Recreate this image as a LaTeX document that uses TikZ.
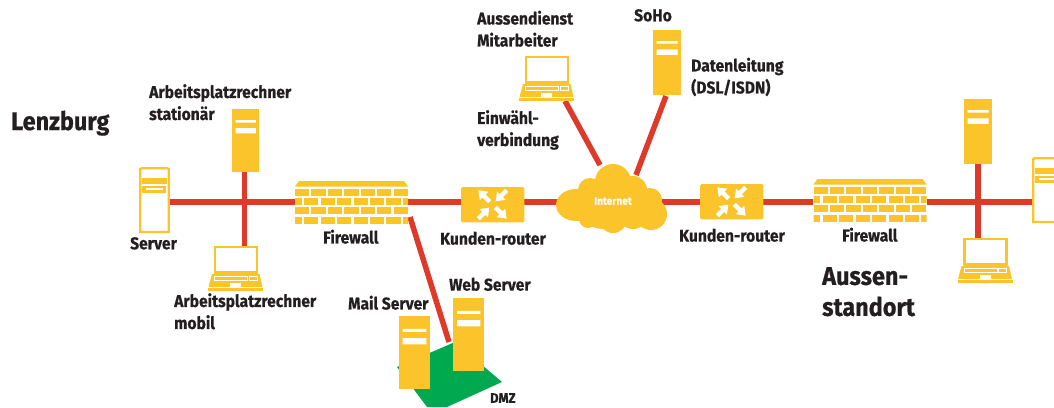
\documentclass[tikz,border=0pt]{standalone}
\usepackage{fontspec}
\usetikzlibrary{calc}
\setmainfont{Fira Sans}[FakeStretch=0.92,BoldFont={Fira Sans Bold},BoldFeatures={FakeBold=0.6}]
\definecolor{yel}{HTML}{FAC42A}
\definecolor{rd}{HTML}{DD3A2A}
\definecolor{grn}{HTML}{00A94F}
\definecolor{ink}{HTML}{231F20}
\tikzset{
  lbl/.style={text=ink,font=\bfseries\fontsize{17}{22}\selectfont,align=left,inner sep=0pt,anchor=north west},
  big/.style={text=ink,font=\bfseries\fontsize{25.5}{31}\selectfont,align=left,inner sep=0pt,anchor=north west},
  small/.style={text=ink,font=\bfseries\fontsize{14}{16}\selectfont,align=left,inner sep=0pt,anchor=north west},
  link/.style={draw=rd,line width=5.5pt},
  box/.style={draw=none,inner sep=0pt,anchor=north west,minimum width=#1},
}
\newcommand{\towerdetail}[1]{% node name
  \path let \p1=(#1.north west),\p2=(#1.south east),\n1={\x2-\x1},\n2={\y1-\y2} in
    [fill=white] (\x1+0.13*\n1,\y1-0.175*\n2) rectangle (\x2-0.13*\n1,\y1-0.215*\n2)
    (\x1+0.13*\n1,\y1-0.30*\n2) rectangle (\x2-0.13*\n1,\y1-0.385*\n2);
}
\newcommand{\serverdetail}[2]{% x y
  \begin{scope}[shift={(#1,#2)}]
    \draw[yel,line width=2.2pt] (1.2,2) -- (1.2,65) -- (29.8,65) -- (29.8,2) -- (28,1.2) -- (3,1.2) -- cycle;
    \fill[yel] (3,11) rectangle (28,17);
    \fill[yel] (3,19) rectangle (27,25.5);
    \fill[white] (6.5,21) rectangle (24,23);
  \end{scope}
}
\newcommand{\laptopdetail}[2]{% x y of base-left
  \begin{scope}[shift={(#1,#2)}]
    \draw[yel,line width=2.2pt] (7,1) rectangle (49,26);
    \fill[yel] (6,26) -- (50,26) -- (50,28) -- (51.5,28) -- (54.5,41) -- (.5,41) -- (4,28) -- (6,28) -- cycle;
    \fill[yel] (0,42) rectangle (55,44.5);
    \draw[white,line width=.6pt] (6.5,30.5) rectangle (39.5,34) (41,30.5) rectangle (49,34);
    \fill[white] (22,36.5) rectangle (33,40.5);
  \end{scope}
}
\newcommand{\firewalldetail}[2]{%
  \begin{scope}[shift={(#1,#2)}]
    \fill[yel] (4,0) -- (109,0) -- (113,5.5) -- (0,5.5) -- cycle;
    \begin{scope}
      \clip (0,0) rectangle (113,43);
      \foreach \r in {0,2}{
        \foreach \k in {0,...,6}{
          \fill[yel] ({\k*16.45},{7.5+\r*9.45}) rectangle ({\k*16.45+14.2},{14.5+\r*9.45});
        }
      }
      \foreach \r in {1,3}{
        \foreach \k in {-1,...,7}{
          \fill[yel] ({\k*16.45+9.2},{7.5+\r*9.45}) rectangle ({\k*16.45+23.4},{14.5+\r*9.45});
        }
      }
    \end{scope}
  \end{scope}
}
\newcommand{\routerdetail}[2]{% centre
  \begin{scope}[shift={(#1,#2)}]
    \foreach \a in {135,315}{
      \begin{scope}[rotate=\a]
        \fill[white] (4,-2.2) -- (12,-2.2) -- (12,-6) -- (20,0) -- (12,6) -- (12,2.2) -- (4,2.2) -- cycle;
      \end{scope}
    }
    \foreach \a in {45,225}{
      \begin{scope}[rotate=\a]
        \fill[white] (20,-2.2) -- (12.5,-2.2) -- (12.5,-6) -- (4.5,0) -- (12.5,6) -- (12.5,2.2) -- (20,2.2) -- cycle;
      \end{scope}
    }
  \end{scope}
}
\begin{document}
\begin{tikzpicture}[x=1pt,y=-1pt]
\useasboundingbox (0,0) rectangle (1054,407);
% nodes as device footprints
\path
  (139,167) node[box=31pt,minimum height=66pt] (srvL) {}
  (232,109) node[box=27pt,minimum height=63pt] (twrL) {}
  (208,246) node[box=55pt,minimum height=45pt] (lapL) {}
  (295,181) node[box=113pt,minimum height=43pt] (fwL) {}
  (461,187) node[box=63pt,minimum height=35pt] (rtL) {}
  (556,165) node[box=111pt,minimum height=68pt] (cloud) {}
  (700,184) node[box=63pt,minimum height=35pt] (rtR) {}
  (813,179) node[box=114pt,minimum height=44pt] (fwR) {}
  (964,98.5) node[box=28pt,minimum height=65.5pt] (twrR) {}
  (957.5,238) node[box=55pt,minimum height=45pt] (lapR) {}
  (1032,157) node[box=31pt,minimum height=66pt] (srvR) {}
  (519,56) node[box=55pt,minimum height=45pt] (lapA) {}
  (653,29.5) node[box=28pt,minimum height=65.5pt] (soho) {}
  (453,298) node[box=31pt,minimum height=73pt] (web) {}
  (398.5,316) node[box=31.5pt,minimum height=73pt] (mail) {};
\coordinate (jL) at (244.5,202);
\coordinate (jR) at (978,202);
\coordinate (dmzA) at (410,217);
\coordinate (dmzB) at (449,342);
\coordinate (cA) at (600,165);
\coordinate (cB) at (636,175);
\coordinate (lA) at (565,101);
\coordinate (sB) at (666,96);
% green DMZ
\fill[grn] (397,367) -- (455,342) -- (502,382) -- (447,407) -- (427,407) -- cycle;
% links
\draw[link] (srvL.east |- jL) -- (fwL.west |- jL);
\draw[link] (twrL.south -| jL) -- (lapL.north -| jL);
\draw[link] (fwL.east |- jL) -- (rtL.west |- jL);
\draw[link] (rtL.east |- jL) -- (cloud.center |- jL);
\draw[link] (cloud.center |- jL) -- (rtR.west |- jL);
\draw[link] (rtR.east |- jL) -- (fwR.west |- jL);
\draw[link] (fwR.east |- jR) -- (srvR.west |- jR);
\draw[link] (twrR.south -| jR) -- (lapR.north -| jR);
\draw[link] (lA) -- (cA);
\draw[link] (sB) -- (cB);
\draw[link] (dmzA) -- (dmzB);
% towers
\foreach \dev in {twrL,twrR,soho,web,mail}{
  \fill[yel] (\dev.north west) rectangle (\dev.south east);
  \towerdetail{\dev}
}
\serverdetail{139}{167}
\begin{scope}
  \clip (1000,100) rectangle (1054,300);
  \serverdetail{1032}{157}
\end{scope}
\laptopdetail{208}{246}
\laptopdetail{957.5}{238}
\laptopdetail{519}{56}
\firewalldetail{295}{181}
\firewalldetail{813.5}{179}
\fill[yel,rounded corners=1.5pt] (rtL.north west) rectangle (rtL.south east);
\fill[yel,rounded corners=1.5pt] (rtR.north west) rectangle (rtR.south east);
\routerdetail{492.5}{204.5}
\routerdetail{731.5}{201.5}
% cloud
\fill[yel] (613,182) circle (18) (590,190) circle (12) (576,205) ellipse (20 and 16)
  (605,205) ellipse (30 and 24) (633,190) circle (14) (650,200) circle (12) (651,214) circle (16)
  (613,219) circle (14) (588,219) circle (9) (633,214) circle (15);
\node[inner sep=0pt,text=white,font=\bfseries\fontsize{11}{12}\selectfont] (inet) at (613,201) {Internet};
% labels
\node[big] (tLenz) at (11,110.5) {Lenzburg};
\node[lbl] (tArb) at (149,84) {Arbeitsplatzrechner\\stationär};
\node[lbl] (tSrv) at (130,237) {Server};
\node[lbl] (tMob) at (174,293) {Arbeitsplatzrechner\\mobil};
\node[lbl] (tFw1) at (323,229.5) {Firewall};
\node[lbl] (tKr1) at (440,231.5) {Kunden-router};
\node[lbl] (tMail) at (348,295.5) {Mail Server};
\node[lbl] (tWeb) at (449,277.5) {Web Server};
\node[small] (tDmz) at (490,393) {DMZ};
\node[lbl] (tAus) at (477,10.5) {Aussendienst\\Mitarbeiter};
\node[lbl] (tSoho) at (634,9) {SoHo};
\node[lbl] (tDat) at (691,57.5) {Datenleitung\\(DSL/ISDN)};
\node[lbl] (tEin) at (477,110) {Einwähl-\\verbindung};
\node[lbl] (tKr2) at (679,228.5) {Kunden-router};
\node[lbl] (tFw2) at (842,227.5) {Firewall};
\node[big] (tAs) at (822,267) {Aussen-\\standort};
\end{tikzpicture}
\end{document}
